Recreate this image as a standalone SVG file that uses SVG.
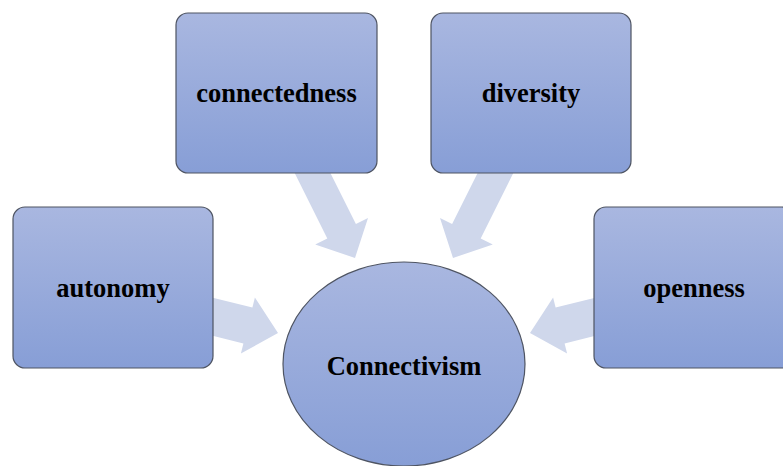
<svg xmlns="http://www.w3.org/2000/svg" width="783" height="466" viewBox="0 0 783 466">
  <defs>
    <linearGradient id="boxFill" x1="0" y1="0" x2="0" y2="1">
      <stop offset="0" stop-color="#a9b7e0"/>
      <stop offset="1" stop-color="#879ed6"/>
    </linearGradient>
    <style>
      .arrow { fill: #cfd7eb; stroke: none; }
      .node { fill: url(#boxFill); stroke: #4e5462; stroke-width: 1.2; }
      .label { font-family: "Liberation Serif", "Times New Roman", serif; font-weight: bold; font-size: 26.5px; fill: #000; text-anchor: middle; }
    </style>
  </defs>
  <rect width="783" height="466" fill="#ffffff"/>
  <g id="connectors">
    <polygon class="arrow" points="322.4,156.9 355.9,224 368,218 355,258 315.2,244.4 327.3,238.4 293.8,171.3"/>
    <polygon class="arrow" points="485.6,156.9 452.1,224 440,218 453,258 492.8,244.4 480.7,238.4 514.2,171.3"/>
    <polygon class="arrow" points="208.7,296.7 252.4,307.6 254.9,297.4 278,333 240.9,353.6 243.4,343.4 199.7,332.5"/>
    <polygon class="arrow" points="599.3,296.7 555.6,307.6 553.1,297.4 530,333 567.1,353.6 564.6,343.4 608.3,332.5"/>
  </g>
  <g id="node-connectedness">
    <rect class="node" x="176" y="13" width="201" height="160" rx="12" ry="12"/>
    <text class="label" x="276.5" y="102">connectedness</text>
  </g>
  <g id="node-diversity">
    <rect class="node" x="431" y="13" width="200" height="160" rx="12" ry="12"/>
    <text class="label" x="531" y="102">diversity</text>
  </g>
  <g id="node-autonomy">
    <rect class="node" x="13" y="207" width="200" height="161" rx="12" ry="12"/>
    <text class="label" x="113" y="297">autonomy</text>
  </g>
  <g id="node-openness">
    <rect class="node" x="594" y="207" width="200" height="161" rx="12" ry="12"/>
    <text class="label" x="694" y="297">openness</text>
  </g>
  <g id="node-connectivism">
    <ellipse class="node" cx="404" cy="364" rx="121" ry="102"/>
    <text class="label" x="404" y="375">Connectivism</text>
  </g>
</svg>
